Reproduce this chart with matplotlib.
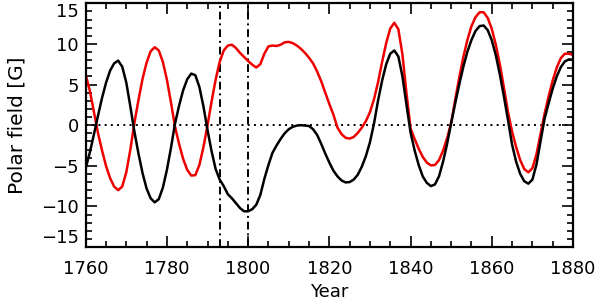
import numpy as np
import matplotlib
matplotlib.use("Agg")
import matplotlib.pyplot as plt

years = list(range(1760, 1881))

black = [
    -5.3, -3.4, -1.2, 1.1, 3.3, 5.2, 6.7, 7.6, 7.95, 7.2,          # 1760-1769
    5.25, 2.3, -0.8, -3.5, -5.9, -7.8, -9.0, -9.5, -9.1, -7.7,     # 1770-1779
    -5.5, -2.8, 0.2, 2.4, 4.3, 5.65, 6.35, 6.15, 4.7, 2.3,         # 1780-1789
    -0.6, -3.2, -5.4, -6.7, -7.5, -8.5, -9.0, -9.6, -10.2, -10.6,  # 1790-1799
    -10.6, -10.35, -9.8, -8.6, -6.6, -4.9, -3.4, -2.5, -1.7, -1.0, # 1800-1809
    -0.5, -0.2, -0.05, 0.0, -0.05, -0.1, -0.5, -1.2, -2.3, -3.5,   # 1810-1819
    -4.6, -5.6, -6.3, -6.8, -7.05, -7.0, -6.7, -6.1, -5.1, -3.8,   # 1820-1829
    -2.1, 0.2, 3.05, 5.5, 7.5, 8.8, 9.2, 8.45, 6.0, 2.5,           # 1830-1839
    -0.9, -3.1, -4.9, -6.3, -7.1, -7.5, -7.3, -6.3, -4.5, -2.3,    # 1840-1849
    0.25, 2.7, 5.05, 7.2, 9.05, 10.5, 11.6, 12.2, 12.27, 11.7,     # 1850-1859
    10.45, 8.6, 6.2, 3.5, 0.6, -2.4, -4.5, -6.0, -6.9, -7.2,       # 1860-1869
    -6.7, -4.85, -2.0, 0.8, 2.7, 4.5, 6.0, 7.15, 7.85, 8.1,        # 1870-1879
    8.05,                                                          # 1880
]

red = [
    6.2, 4.3, 1.7, -0.9, -3.05, -5.0, -6.5, -7.55, -8.0, -7.55,    # 1760-1769
    -5.8, -3.0, 0.3, 3.1, 5.7, 7.7, 9.1, 9.6, 9.2, 7.8,            # 1770-1779
    5.6, 2.8, -0.2, -2.3, -4.15, -5.5, -6.2, -6.15, -4.9, -2.7,    # 1780-1789
    0.0, 2.9, 5.6, 7.8, 9.2, 9.8, 9.9, 9.5, 8.9, 8.4,              # 1790-1799
    7.9, 7.45, 7.1, 7.5, 8.8, 9.7, 9.8, 9.75, 9.9, 10.2,           # 1800-1809
    10.25, 10.1, 9.8, 9.4, 8.9, 8.3, 7.6, 6.6, 5.4, 4.0,           # 1810-1819
    2.6, 1.3, -0.3, -1.1, -1.55, -1.65, -1.45, -0.95, -0.3, 0.5,   # 1820-1829
    1.6, 3.2, 5.3, 7.8, 10.1, 11.9, 12.6, 11.8, 8.7, 3.9,          # 1830-1839
    -0.4, -1.7, -2.9, -3.9, -4.6, -4.95, -4.9, -4.3, -3.15, -1.6,  # 1840-1849
    0.3, 3.15, 5.9, 8.4, 10.5, 12.2, 13.3, 13.9, 13.9, 13.2,       # 1850-1859
    11.85, 9.9, 7.45, 4.6, 1.6, -0.8, -2.7, -4.3, -5.4, -5.8,      # 1860-1869
    -5.3, -3.6, -1.1, 1.4, 3.55, 5.5, 7.1, 8.25, 8.8, 8.8,         # 1870-1879
    8.65,                                                          # 1880
]

vlines = [1793, 1800]
xticks = [1760, 1780, 1800, 1820, 1840, 1860, 1880]
yticks = [-15, -10, -5, 0, 5, 10, 15]

plt.rcParams['font.family'] = ['DejaVu Sans']

fig = plt.figure(figsize=(6.0, 3.02), dpi=100)
ax = fig.add_axes([0.1428, 0.182, 0.955 - 0.1428, 0.989 - 0.182])

ax.axhline(0, color='black', lw=1.4, ls=(0, (1, 2.2)), zorder=1)
for v in vlines:
    ax.axvline(v, color='black', lw=1.4, ls=(0, (4, 2, 1, 2)), zorder=1)

ax.plot(years, black, color='black', lw=1.8, zorder=3)
ax.plot(years, red, color='#ee0000', lw=1.8, zorder=2)

ax.set_xlim(1760, 1880)
ax.set_ylim(-15, 15)
ax.set_xticks(xticks)
ax.set_yticks(yticks)
ax.set_xticks(np.arange(1760, 1881, 5), minor=True)
ax.set_yticks(np.arange(-15, 16, 1), minor=True)

ax.tick_params(which='both', direction='in', top=True, right=True, width=1.2,
               labelsize=13)
ax.tick_params(which='major', length=8)
ax.tick_params(which='minor', length=4)
ax.tick_params(axis='x', pad=9)
ax.tick_params(axis='y', pad=5)
for s in ax.spines.values():
    s.set_linewidth(1.6)

ylabels = ax.get_yticklabels()
ylabels[0].set_verticalalignment('bottom')
ylabels[-1].set_verticalalignment('top')

ax.set_xlabel('Year', fontsize=13)
ax.set_ylabel('Polar field [G]', fontsize=14.5)
ax.xaxis.set_label_coords(0.5, -0.148)
ax.yaxis.set_label_coords(-0.122, 0.5)

fig.savefig('out.png', dpi=100)
